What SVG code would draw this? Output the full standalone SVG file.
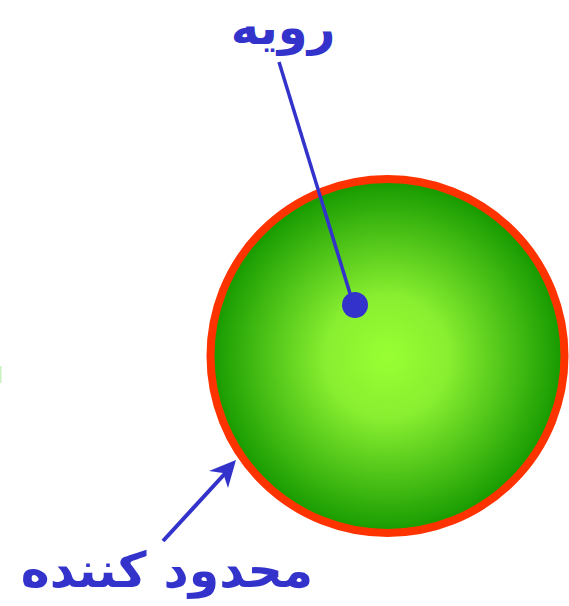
<svg xmlns="http://www.w3.org/2000/svg" width="569" height="606" viewBox="0 0 569 606">
<style>
.lbl{font-family:"DejaVu Sans","Noto Sans",sans-serif;font-weight:bold;fill:#3333cc;text-anchor:middle;direction:rtl}
.conn{stroke:#3333cc;fill:none}
</style>
<defs>
<radialGradient id="g" cx="387" cy="357" r="177" gradientUnits="userSpaceOnUse">
<stop offset="0" stop-color="#99ff33"/>
<stop offset="0.35" stop-color="#88ee30"/>
<stop offset="1" stop-color="#159900"/>
</radialGradient>
</defs>
<rect x="0" y="366" width="1.5" height="17" fill="#c9f2c0"/>
<g id="surface-body">
<circle cx="387.5" cy="356" r="177" fill="url(#g)" stroke="#ff3300" stroke-width="8"/>
</g>
<g id="connectors">
<line class="conn" x1="279" y1="62" x2="352" y2="300" stroke-width="3.5"/>
<circle cx="355" cy="305" r="13" fill="#3333cc"/>
<line class="conn" x1="163" y1="541" x2="231" y2="467" stroke-width="4"/>
<path d="M236,460 L209,471 L223,473 L228,488 Z" fill="#3333cc"/>
</g>
<g id="label-surface">
<text class="lbl" x="283" y="44" font-size="48">رویه</text>
</g>
<g id="label-bounding">
<text class="lbl" x="167" y="587" font-size="49">محدود کننده</text>
</g>
</svg>
